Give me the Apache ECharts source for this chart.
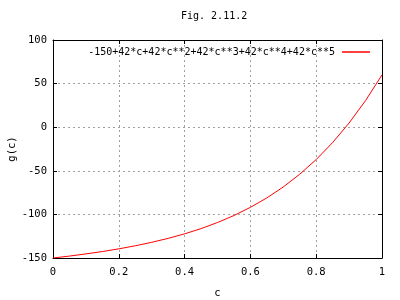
<!DOCTYPE html>
<html><head><meta charset="utf-8">
<script src="https://cdn.jsdelivr.net/npm/echarts@6/dist/echarts.min.js"></script>
<style>html,body{margin:0;padding:0;background:#fff}#c{width:400px;height:300px}</style>
</head><body><div id="c"></div>
<script>
var cValues = [0,0.05,0.1,0.15,0.2,0.25,0.3,0.35,0.4,0.45,0.5,0.55,0.6,0.65,0.7,0.75,0.8,0.85,0.9,0.95,1];
var gValues = [-150,-147.8,-145.3,-142.6,-139.5,-136.0,-132.0,-127.5,-122.3,-116.3,-109.3,-101.3,-91.9,-81.1,-68.5,-53.9,-37.1,-17.6,4.8,30.5,60];
var seriesName = '-150+42*c+42*c**2+42*c**3+42*c**4+42*c**5';
var xTicks = ['0','0.2','0.4','0.6','0.8','1'];
var yTicks = [-150,-100,-50,0,50,100];

var font = 'DejaVu Sans Mono';
var chart = echarts.init(document.getElementById('c'), null, {renderer:'canvas'});
var pts = cValues.map(function(c,i){return [c,gValues[i]];});
var tickStyle = {show:true, inside:true, length:4, lineStyle:{color:'#000', width:1}};
var gridStyle = {show:true, lineStyle:{color:'#a0a0a0', type:[2,3], width:1}};
var lineStyle = {show:true, onZero:false, lineStyle:{color:'#000', width:1}};
chart.setOption({
  animation:false,
  title:{text:'Fig. 2.11.2', left:181, top:11, padding:0,
    textStyle:{fontFamily:font, fontSize:10, fontWeight:'normal', color:'#000'}},
  legend:{right:25, top:42, align:'right', itemGap:0, itemWidth:28, itemHeight:1.5, icon:'rect',
    textStyle:{fontFamily:font, fontSize:10, color:'#000', padding:[0,2,0,0]},
    data:[{name:seriesName}]},
  grid:{left:53, right:18, top:40, bottom:42, outerBoundsMode:'none', containLabel:false},
  xAxis:[{type:'value', min:0, max:1, interval:0.2, name:'c', nameLocation:'middle', nameGap:30,
    nameMoveOverlap:false,
    nameTextStyle:{fontFamily:font, fontSize:10.5, color:'#000'},
    axisLine:lineStyle,
    axisTick:tickStyle, splitLine:gridStyle,
    axisLabel:{fontFamily:font, fontSize:10.5, color:'#000', margin:9,
      formatter:function(v){return xTicks[Math.round(v/0.2)];}}},
    {type:'value', position:'top', min:0, max:1, interval:0.2,
    axisLine:lineStyle, axisTick:tickStyle,
    axisLabel:{show:false}, splitLine:{show:false}}],
  yAxis:[{type:'value', min:-150, max:100, interval:50, name:'g(c)', nameLocation:'middle', nameGap:35, nameRotate:90,
    nameMoveOverlap:false,
    nameTextStyle:{fontFamily:font, fontSize:10.5, color:'#000'},
    axisLine:lineStyle,
    axisTick:tickStyle, splitLine:gridStyle,
    axisLabel:{fontFamily:font, fontSize:10.5, color:'#000', margin:6,
      formatter:function(v){return yTicks.indexOf(v)>=0 ? String(v) : '';}}},
    {type:'value', position:'right', min:-150, max:100, interval:50,
    axisLine:lineStyle, axisTick:tickStyle,
    axisLabel:{show:false}, splitLine:{show:false}}],
  series:[{name:seriesName, type:'line', data:pts, symbol:'none', smooth:false,
    lineStyle:{color:'#ff0000', width:1}, itemStyle:{color:'#ff0000'}}]
});
</script></body></html>
